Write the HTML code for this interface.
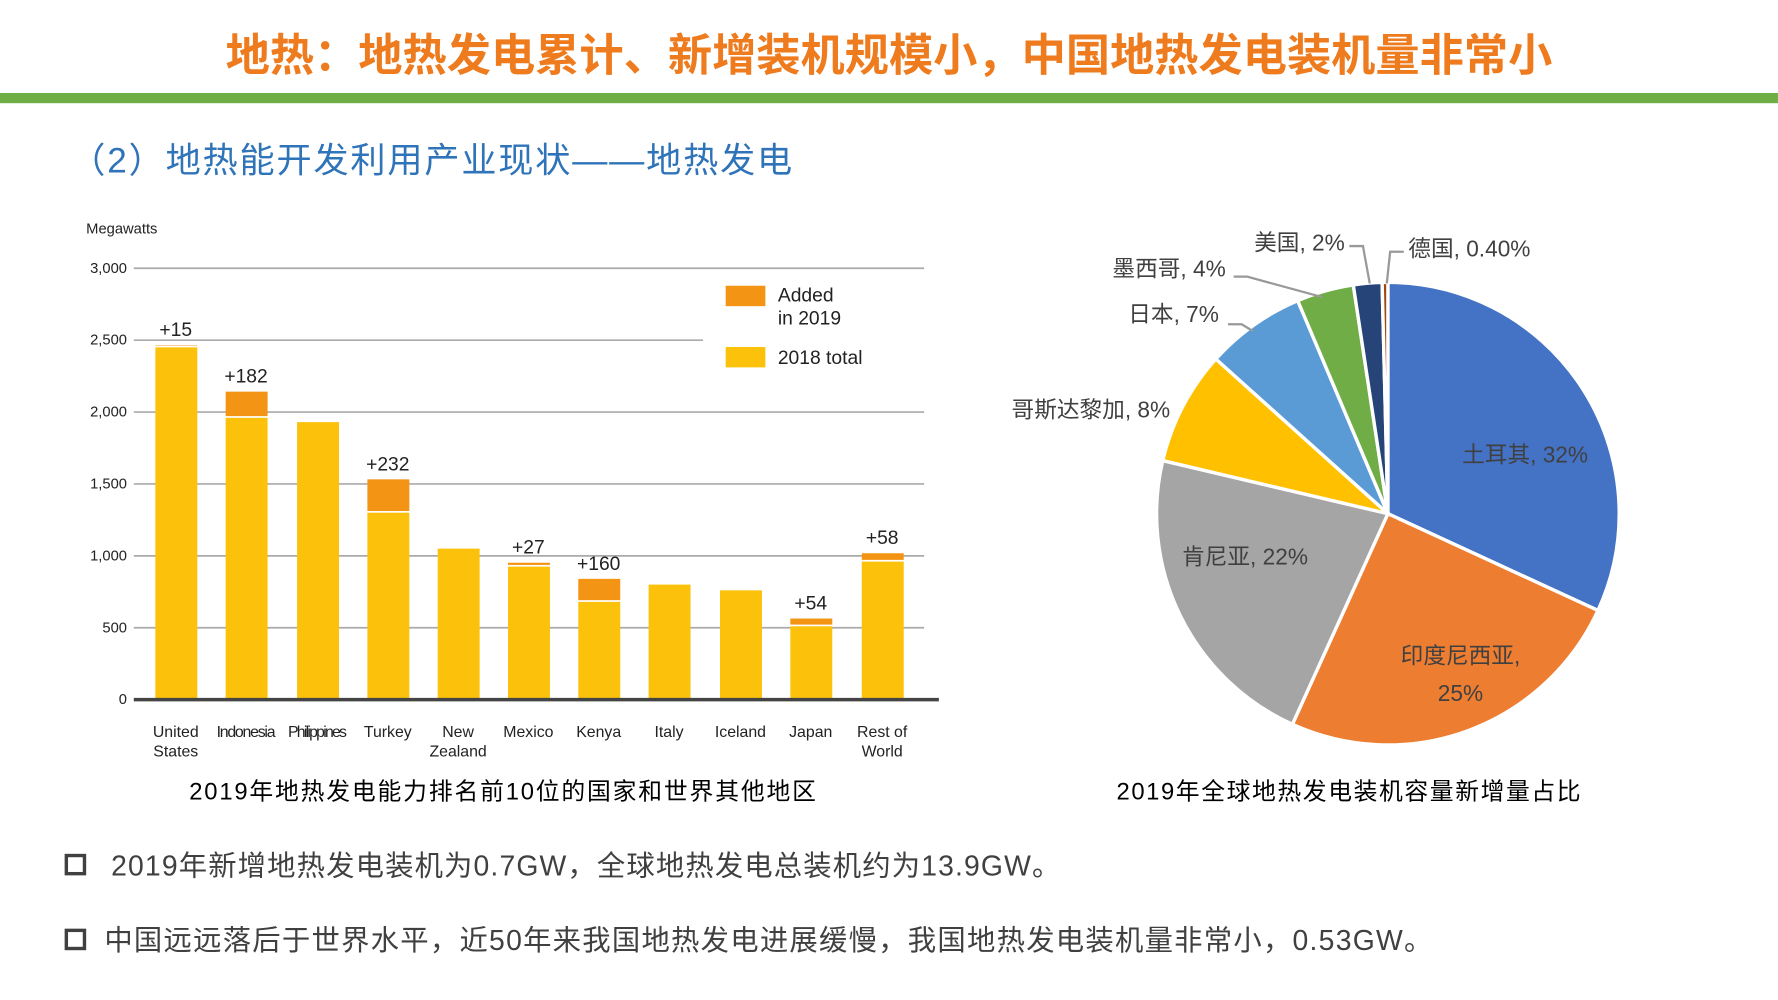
<!DOCTYPE html>
<html><head><meta charset="utf-8"><style>
html,body{margin:0;padding:0;background:#fff;}
body{width:1778px;height:1000px;overflow:hidden;position:relative;}
#s{position:absolute;left:0;top:0;width:1568px;height:882px;transform:scale(1.1339);transform-origin:0 0;font-family:"Liberation Sans","Noto Sans CJK SC",sans-serif;}
.t{position:absolute;white-space:nowrap;}
</style></head><body><div id="s">
<div class="t" style="left:0;width:1568px;text-align:center;top:27px;font-size:39px;font-weight:bold;color:#ee7b1e;line-height:46px;">地热：地热发电累计、新增装机规模小，中国地热发电装机量非常小</div>
<div style="position:absolute;left:0;top:82px;width:1568px;height:9px;background:#6fae45;"></div>
<div class="t" style="left:62px;top:122px;font-size:31px;color:#2f73b8;line-height:40px;letter-spacing:1.6px;">（2）地热能开发利用产业现状——地热发电</div>
<svg id="bar" width="1568" height="882" style="position:absolute;left:0;top:0" font-family="Liberation Sans, sans-serif"></svg>
<div class="t" style="left:0;width:888px;text-align:center;top:682px;font-size:21px;letter-spacing:1.6px;color:#000;">2019年地热发电能力排名前10位的国家和世界其他地区</div>
<div class="t" style="left:900px;width:580px;text-align:center;top:682px;font-size:21px;letter-spacing:1.4px;color:#000;">2019年全球地热发电装机容量新增量占比</div>
<div style="position:absolute;left:57px;top:753px;width:13px;height:13px;border:3px solid #404040;"></div>
<div class="t" style="left:98px;top:744px;font-size:25px;letter-spacing:1px;color:#404040;">2019年新增地热发电装机为0.7GW，全球地热发电总装机约为13.9GW。</div>
<div style="position:absolute;left:57px;top:819px;width:13px;height:13px;border:3px solid #404040;"></div>
<div class="t" style="left:92px;top:810px;font-size:25px;letter-spacing:1.1px;color:#404040;">中国远远落后于世界水平，近50年来我国地热发电进展缓慢，我国地热发电装机量非常小，0.53GW。</div>
</div>
<script>
var svg=document.getElementById('bar'),h='';
function y(v){return 617-v*0.1268;}
h+='<text x="76" y="206" font-size="13" fill="#222">Megawatts</text>';
[0,500,1000,1500,2000,2500,3000].forEach(function(v){var yy=y(v);
 h+='<text x="112" y="'+(yy+4)+'" font-size="13" fill="#222" text-anchor="end">'+(v?v.toLocaleString('en-US'):'0')+'</text>';
 if(v) h+='<line x1="118" x2="815" y1="'+yy+'" y2="'+yy+'" stroke="#aaa" stroke-width="1.5"/>';});
var d=[["United","States",2450,15],["Indonesia","",1960,182],["Philippines","",1930,0],["Turkey","",1300,232],["New","Zealand",1050,0],["Mexico","",925,27],["Kenya","",680,160],["Italy","",800,0],["Iceland","",760,0],["Japan","",510,54],["Rest of","World",960,58]];
var cx=[155,217,280,342,404,466,528,590,653,715,778];
h+='<rect x="620" y="240" width="200" height="95" fill="#fff"/>';
d.forEach(function(r,i){var x=cx[i]-18;
 h+='<rect x="'+x+'" y="'+y(r[2])+'" width="37" height="'+(617-y(r[2]))+'" fill="#fcc10b"/>';
 if(r[3]){h+='<rect x="'+x+'" y="'+(y(r[2]+r[3]))+'" width="37" height="'+(r[3]*0.1268-1.5)+'" fill="#f39415"/>';
  h+='<text x="'+cx[i]+'" y="'+(y(r[2]+r[3])-8)+'" font-size="17" fill="#222" text-anchor="middle">+'+r[3]+'</text>';}
 h+='<text x="'+cx[i]+'" y="650" font-size="14" fill="#222" text-anchor="middle" textLength="'+(r[0].length>8?52:0)+'">'+r[0]+'</text>';
 if(r[1])h+='<text x="'+cx[i]+'" y="667" font-size="14" fill="#222" text-anchor="middle">'+r[1]+'</text>';});
h=h.replace(/ textLength="0"/g,'');
h+='<line x1="118" x2="828" y1="617" y2="617" stroke="#444" stroke-width="3"/>';
h+='<rect x="640" y="252" width="35" height="18" fill="#f39415"/><text x="686" y="266" font-size="17" fill="#222">Added</text><text x="686" y="286" font-size="17" fill="#222">in 2019</text>';
h+='<rect x="640" y="306" width="35" height="18" fill="#fcc10b"/><text x="686" y="321" font-size="17" fill="#222">2018 total</text>';
var P=[[32,"#4472c4"],[25,"#ed7d31"],[22,"#a5a5a5"],[8,"#ffc000"],[7,"#5b9bd5"],[4,"#70ad47"],[2,"#264478"],[0.4,"#9e480e"]];
var tot=100.4,a=0,pcx=1224,pcy=453,R=204;
function pt(t,r){return [pcx+r*Math.sin(t),pcy-r*Math.cos(t)];}
P.forEach(function(p){var a2=a+p[0]/tot*2*Math.PI,s=pt(a,R),e=pt(a2,R);
 h+='<path d="M'+pcx+','+pcy+' L'+s[0]+','+s[1]+' A'+R+','+R+' 0 '+((a2-a)>Math.PI?1:0)+' 1 '+e[0]+','+e[1]+' Z" fill="'+p[1]+'" stroke="#fff" stroke-width="3"/>';a=a2;});
var lf='font-size="20" fill="#404040"';
h+='<text x="1345" y="408" '+lf+' text-anchor="middle">土耳其, 32%</text>';
h+='<text x="1098" y="498" '+lf+' text-anchor="middle">肯尼亚, 22%</text>';
h+='<text x="1288" y="585" '+lf+' text-anchor="middle">印度尼西亚,</text><text x="1288" y="618" '+lf+' text-anchor="middle">25%</text>';
h+='<text x="1032" y="368" '+lf+' text-anchor="end">哥斯达黎加, 8%</text>';
h+='<text x="1075" y="284" '+lf+' text-anchor="end">日本, 7%</text>';
h+='<text x="1081" y="244" '+lf+' text-anchor="end">墨西哥, 4%</text>';
h+='<text x="1186" y="221" '+lf+' text-anchor="end">美国, 2%</text>';
h+='<text x="1242" y="226" '+lf+'>德国, 0.40%</text>';
var ls='fill="none" stroke="#999" stroke-width="2"';
h+='<polyline points="1083,286 1095,286 1105,292" '+ls+'/>';
h+='<polyline points="1088,244 1100,244 1166,262" '+ls+'/>';
h+='<polyline points="1190,217 1202,217 1208,250" '+ls+'/>';
h+='<polyline points="1238,222 1226,222 1223,250" '+ls+'/>';
svg.innerHTML=h;
</script>
</body></html>
